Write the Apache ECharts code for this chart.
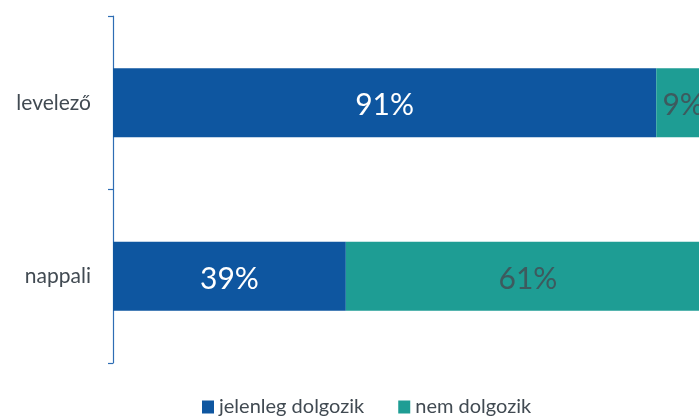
<!DOCTYPE html>
<html><head><meta charset="utf-8">
<script src="https://cdn.jsdelivr.net/npm/echarts@6/dist/echarts.min.js"></script>
<style>html,body{margin:0;padding:0;background:#fff}#c{width:699px;height:416px}</style>
</head><body><div id="c"></div>
<script>
const categories = ['nappali', 'levelező'];
const seriesNames = ['jelenleg dolgozik', 'nem dolgozik'];
const working = [39, 91];
const notWorking = [61, 9];
const colors = ['#0E56A0', '#1E9D94'];
const labelColors = ['#ffffff', '#3d5a5e'];

const chart = echarts.init(document.getElementById('c'));
const font = 'Lato, "Open Sans", sans-serif';
chart.setOption({
  animation: false,
  textStyle: { fontFamily: font },
  grid: { left: 113, width: 597, top: 16, bottom: 53, containLabel: false, outerBoundsMode: 'none' },
  legend: {
    top: 392, left: 197, itemWidth: 12, itemHeight: 13, itemGap: 34,
    icon: 'rect',
    textStyle: { fontSize: 20, color: '#414a52', fontFamily: font },
    data: seriesNames
  },
  xAxis: { type: 'value', min: 0, max: 100, show: false },
  yAxis: {
    type: 'category', data: categories,
    axisLine: { show: true, lineStyle: { color: '#2E6DB4', width: 1.2 } },
    axisTick: { show: true, length: 5, lineStyle: { color: '#2E6DB4', width: 1.2 } },
    axisLabel: { fontSize: 21, color: '#414a52', margin: 22, fontFamily: font }
  },
  series: [working, notWorking].map((d, i) => ({
    name: seriesNames[i], type: 'bar', stack: 'a', data: d,
    barWidth: 69,
    itemStyle: { color: colors[i] },
    label: { show: true, position: 'inside', offset: [0, 3], formatter: '{c}%', fontSize: 30, color: labelColors[i], fontFamily: font }
  }))
});
</script></body></html>
